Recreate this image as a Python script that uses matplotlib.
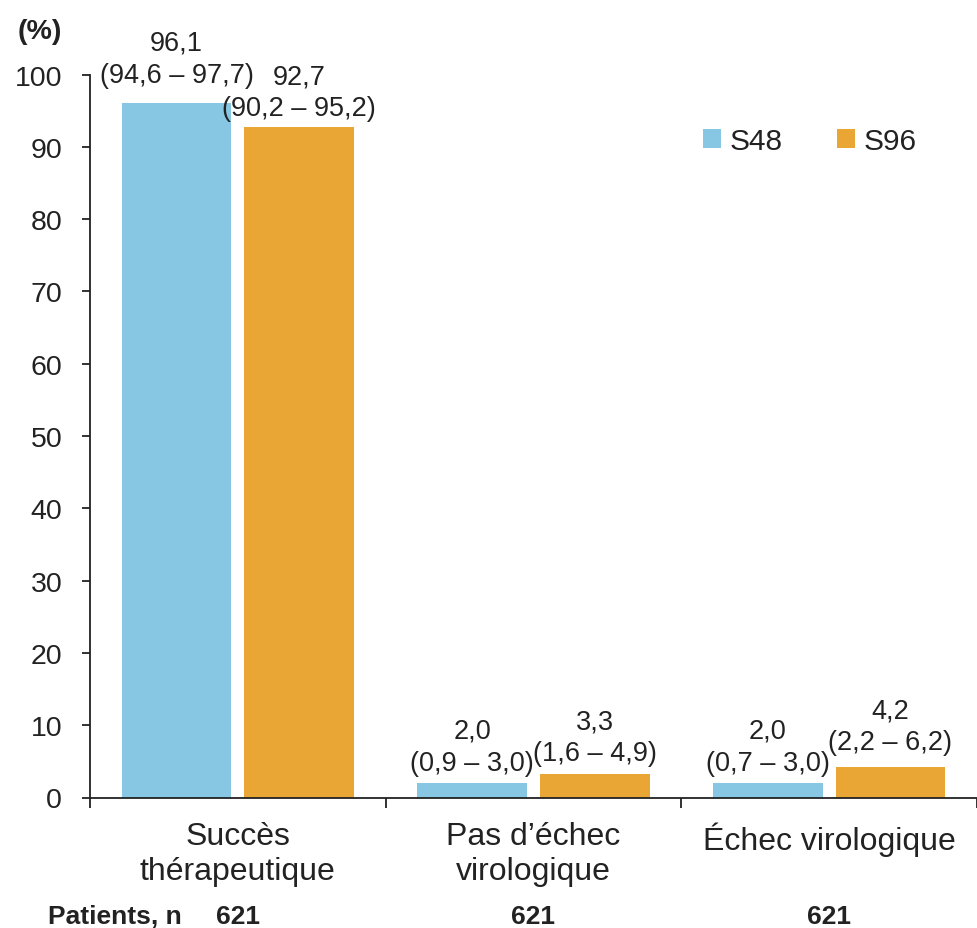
import matplotlib
matplotlib.use("Agg")
import matplotlib.pyplot as plt
from matplotlib.transforms import blended_transform_factory

plt.rcParams['font.family'] = ['Liberation Sans', 'DejaVu Sans']

# Data
categories = ["Succès\nthérapeutique", "Pas d\u2019échec\nvirologique", "Échec virologique"]
series_names = ["S48", "S96"]
s48_values = [96.1, 2.0, 2.0]
s96_values = [92.7, 3.3, 4.2]
s48_ci = ["(94,6 \u2013 97,7)", "(0,9 \u2013 3,0)", "(0,7 \u2013 3,0)"]
s96_ci = ["(90,2 \u2013 95,2)", "(1,6 \u2013 4,9)", "(2,2 \u2013 6,2)"]
patients_n = [621, 621, 621]
y_ticks = [0, 10, 20, 30, 40, 50, 60, 70, 80, 90, 100]

# Styling
BLUE = "#87C7E3"
ORANGE = "#EAA634"
DARK = "#222222"
# gap (pt) between each bar top and the baseline of its interval label
s48_label_gap = [15, 9.5, 9.5]
s96_label_gap = [8.5, 9.5, 13]
LINE_STEP = 23  # pt between the value line and the interval line

W, H = 977, 929
fig = plt.figure(figsize=(W / 100, H / 100), dpi=100)
ax = fig.add_axes([90 / W, 1 - 798.5 / H, (W - 90) / W, (798.5 - 75.5) / H])

x = list(range(len(categories)))
offset = 0.2074
width = 0.371

def fmt(v):
    return f"{v:.1f}".replace(".", ",")

b1 = ax.bar([i - offset for i in x], s48_values, width, color=BLUE, label=series_names[0], zorder=2)
b2 = ax.bar([i + offset for i in x], s96_values, width, color=ORANGE, label=series_names[1], zorder=2)

for bars, vals, cis, gaps in ((b1, s48_values, s48_ci, s48_label_gap),
                              (b2, s96_values, s96_ci, s96_label_gap)):
    for rect, v, ci, g in zip(bars, vals, cis, gaps):
        cx = rect.get_x() + rect.get_width() / 2
        ax.annotate(ci, xy=(cx, v), xytext=(0, g), textcoords="offset points",
                    ha="center", va="baseline", fontsize=19.5, color=DARK)
        ax.annotate(fmt(v), xy=(cx, v), xytext=(0, g + LINE_STEP), textcoords="offset points",
                    ha="center", va="baseline", fontsize=19.5, color=DARK)

ax.set_ylim(0, 100)
ax.set_xlim(-0.5, -0.5 + (W - 90) / 299)
ax.set_yticks(y_ticks)
ax.tick_params(axis="y", which="major", direction="out", length=6, width=1.3,
               pad=14, labelsize=20.5, colors=DARK)

# Category boundaries carry the tick marks; labels sit at the centres
ax.set_xticks([-0.5, 0.5, 1.5, 2.5])
ax.set_xticklabels([])
ax.tick_params(axis="x", which="major", direction="out", length=7, width=1.3, colors=DARK)
ax.set_xticks(x, categories, minor=True)
ax.tick_params(axis="x", which="minor", length=0, pad=17, labelsize=23, labelcolor=DARK)
for lbl in ax.get_xticklabels(minor=True):
    lbl.set_linespacing(1.22)
    lbl.set_verticalalignment("top")

for side in ("top", "right"):
    ax.spines[side].set_visible(False)
for side in ("left", "bottom"):
    ax.spines[side].set_linewidth(1.3)
    ax.spines[side].set_color(DARK)
ax.spines["bottom"].set_zorder(3)

# Axis unit
fig.text(40 / W, 1 - 32 / H, "(%)", ha="center", va="center",
         fontsize=20.5, fontweight="bold", color=DARK)

# Patient counts row
fig.text(48 / W, 1 - 917 / H, "Patients, n", ha="left", va="center",
         fontsize=19, fontweight="bold", color=DARK)
tr = blended_transform_factory(ax.transData, fig.transFigure)
for i, n in zip(x, patients_n):
    ax.text(i, 1 - 917 / H, str(n), transform=tr, ha="center", va="center",
            fontsize=19, fontweight="bold", color=DARK)

leg = ax.legend(handles=[b1, b2], loc="center left",
                bbox_to_anchor=(703 / W, 1 - 142 / H), bbox_transform=fig.transFigure,
                ncol=2, frameon=False, fontsize=21.5, handlelength=0.6, handleheight=0.6,
                handletextpad=0.3, columnspacing=1.8, borderpad=0, borderaxespad=0)
for t in leg.get_texts():
    t.set_color(DARK)

fig.savefig("out.png", dpi=100)
